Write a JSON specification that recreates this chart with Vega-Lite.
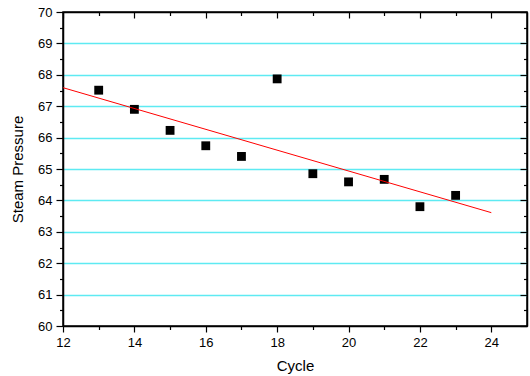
{
  "$schema": "https://vega.github.io/schema/vega-lite/v6.json",
  "width": 464,
  "height": 314,
  "autosize": "none",
  "padding": {"left": 63, "top": 12, "right": 3, "bottom": 50},
  "background": "white",
  "config": {
    "view": {"stroke": "black", "strokeWidth": 1.5},
    "font": "Liberation Sans",
    "axis": {
      "labelFont": "Liberation Sans",
      "labelFontSize": 13,
      "labelColor": "black",
      "labelFlush": false,
      "labelOverlap": false,
      "titleFont": "Liberation Sans",
      "titleFontSize": 15,
      "titleFontWeight": "normal",
      "titleColor": "black",
      "tickColor": "black",
      "domainColor": "black",
      "domainWidth": 1.5,
      "tickWidth": 1.2
    }
  },
  "layer": [
    {
      "data": {"values": [
        {"Cycle": 13, "Pressure": 67.51},
        {"Cycle": 14, "Pressure": 66.90},
        {"Cycle": 15, "Pressure": 66.23},
        {"Cycle": 16, "Pressure": 65.74},
        {"Cycle": 17, "Pressure": 65.40},
        {"Cycle": 18, "Pressure": 67.87},
        {"Cycle": 19, "Pressure": 64.85},
        {"Cycle": 20, "Pressure": 64.59},
        {"Cycle": 21, "Pressure": 64.67},
        {"Cycle": 22, "Pressure": 63.80},
        {"Cycle": 23, "Pressure": 64.16}
      ]},
      "mark": {"type": "point", "shape": "square", "size": 78, "filled": true, "color": "black", "opacity": 1},
      "encoding": {
        "x": {
          "field": "Cycle", "type": "quantitative",
          "scale": {"domain": [12, 25], "nice": false, "zero": false},
          "axis": {
            "orient": "bottom", "title": "Cycle", "grid": false,
            "values": [12, 13, 14, 15, 16, 17, 18, 19, 20, 21, 22, 23, 24],
            "tickSize": {"condition": {"test": "datum.value % 2 === 0", "value": 6}, "value": 3.5},
            "labelExpr": "datum.value % 2 === 0 ? datum.label : ''",
            "labelPadding": 4,
            "titlePadding": 9
          }
        },
        "y": {
          "field": "Pressure", "type": "quantitative",
          "scale": {"domain": [60, 70], "nice": false, "zero": false},
          "axis": {
            "orient": "left", "title": "Steam Pressure",
            "values": [60, 60.5, 61, 61.5, 62, 62.5, 63, 63.5, 64, 64.5, 65, 65.5, 66, 66.5, 67, 67.5, 68, 68.5, 69, 69.5, 70],
            "tickSize": {"condition": {"test": "datum.value % 1 === 0", "value": 7}, "value": 3.5},
            "labelExpr": "datum.value % 1 === 0 ? format(datum.value, 'd') : ''",
            "labelPadding": 4,
            "titlePadding": 12,
            "grid": true,
            "gridColor": "#5EEAF2",
            "gridWidth": 1.5,
            "gridOpacity": {"condition": {"test": "datum.value % 1 === 0 && datum.value > 60 && datum.value < 70", "value": 1}, "value": 0}
          }
        }
      }
    },
    {
      "data": {"values": [
        {"Cycle": 12, "Pressure": 67.59},
        {"Cycle": 24, "Pressure": 63.61}
      ]},
      "mark": {"type": "line", "color": "#FF0000", "strokeWidth": 1},
      "encoding": {
        "x": {
          "field": "Cycle", "type": "quantitative",
          "axis": {
            "orient": "top", "title": null, "labels": false, "grid": false,
            "values": [12, 13, 14, 15, 16, 17, 18, 19, 20, 21, 22, 23, 24],
            "tickSize": {"condition": {"test": "datum.value % 2 === 0", "value": -6}, "value": -3.5}
          }
        },
        "y": {
          "field": "Pressure", "type": "quantitative",
          "axis": {
            "orient": "right", "title": null, "labels": false, "grid": false,
            "values": [60, 60.5, 61, 61.5, 62, 62.5, 63, 63.5, 64, 64.5, 65, 65.5, 66, 66.5, 67, 67.5, 68, 68.5, 69, 69.5, 70],
            "tickSize": {"condition": {"test": "datum.value % 1 === 0", "value": -7}, "value": -3.5}
          }
        }
      }
    }
  ],
  "resolve": {"axis": {"x": "independent", "y": "independent"}}
}
